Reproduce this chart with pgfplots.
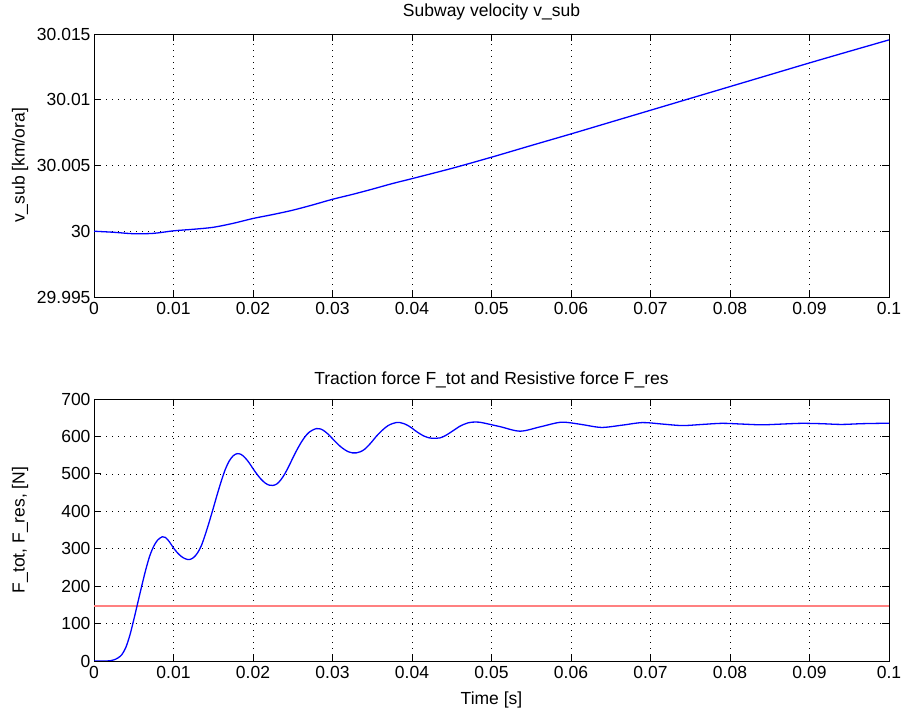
\documentclass[border=0pt]{standalone}
\usepackage{pgfplots}
\pgfplotsset{compat=1.18}
\usepackage{fontspec}
\setmainfont{Liberation Sans}
\definecolor{mblue}{rgb}{0,0,1}
\definecolor{mred}{RGB}{255,128,128}
\pgfplotsset{
  mstyle/.style={
    scale only axis,
    width=795bp,
    anchor=south west,
    xmin=0, xmax=0.1,
    xtick={0,0.01,0.02,0.03,0.04,0.05,0.06,0.07,0.08,0.09,0.1},
    xticklabels={0,0.01,0.02,0.03,0.04,0.05,0.06,0.07,0.08,0.09,0.1},
    scaled x ticks=false, scaled y ticks=false,
    grid=major,
    major grid style={black, line width=0.6bp, dash pattern=on 0.8bp off 5.2bp},
    tick align=inside,
    major tick length=7bp,
    tick style={black, line width=0.8bp},
    axis line style={black, line width=0.9bp},
    every axis/.append style={font=\fontsize{17.5bp}{20bp}\selectfont},
    tick label style={font=\fontsize{17.5bp}{20bp}\selectfont},
    /pgf/number format/assume math mode=true,
    xticklabel style={yshift=-2bp},
    title style={font=\fontsize{17.5bp}{20bp}\selectfont, at={(axis description cs:0.5,1)}, anchor=base},
    ylabel style={font=\fontsize{17.5bp}{20bp}\selectfont, at={(axis description cs:-0.093,0.5)}, anchor=center},
    xlabel style={font=\fontsize{17.5bp}{20bp}\selectfont, at={(axis description cs:0.5,0)}, anchor=base, yshift=-44bp},
  }
}
\begin{document}
\begin{tikzpicture}[x=1bp,y=1bp]
\useasboundingbox (0,0) rectangle (904,716);
\begin{axis}[mstyle, at={(94bp,419bp)}, height=263bp,
  ymin=29.995, ymax=30.015,
  ytick={29.995,30,30.005,30.01,30.015},
  yticklabels={29.995,30,30.005,30.01,30.015},
  title={Subway velocity v\_sub},
  title style={yshift=12bp},
  ylabel={v\_sub [km/ora]}]
\addplot[mblue, line width=1.3bp, smooth] coordinates {
(0,30.00000) (0.0025,29.99992) (0.005,29.99981) (0.0075,29.99984)
(0.01,30.00003) (0.0125,30.00015) (0.015,30.00030) (0.0175,30.00060)
(0.02,30.00097) (0.0225,30.00127) (0.025,30.00160) (0.0275,30.00200)
(0.03,30.00243) (0.0325,30.00280) (0.035,30.00320) (0.0375,30.00362)
(0.04,30.00400) (0.045,30.00478) (0.05,30.00563) (0.055,30.00652)
(0.06,30.00740) (0.065,30.00830) (0.07,30.00920) (0.075,30.01010)
(0.08,30.01100) (0.085,30.01190) (0.09,30.01280) (0.095,30.01368)
(0.1,30.01455)
};
\end{axis}
\begin{axis}[mstyle, at={(94bp,55bp)}, height=262bp,
  ymin=0, ymax=700,
  ytick={0,100,200,300,400,500,600,700},
  yticklabels={0,100,200,300,400,500,600,700},
  title={Traction force F\_tot and Resistive force F\_res},
  title style={yshift=9bp},
  ylabel={F\_tot, F\_res, [N]},
  xlabel={Time [s]}]
\addplot[mred, line width=1.8bp] coordinates {(0,147) (0.1,147)};
\addplot[mblue, line width=1.3bp, smooth] coordinates {
(0,0) (0.001,0) (0.0015,0) (0.002,0.5) (0.0025,3) (0.003,8) (0.0035,17)
(0.004,36) (0.0045,68) (0.005,110) (0.0055,155) (0.006,200) (0.0065,243)
(0.007,280) (0.0075,306) (0.008,323) (0.0086,332) (0.009,330) (0.0095,318)
(0.010,302) (0.0105,289) (0.011,279) (0.0115,273) (0.012,271) (0.0125,276)
(0.013,288) (0.0135,308) (0.014,338) (0.0145,372) (0.015,408) (0.0155,445)
(0.016,480) (0.0165,511) (0.017,534) (0.0175,548) (0.018,554) (0.0185,552)
(0.019,543) (0.0195,530) (0.020,514) (0.0205,499) (0.021,486) (0.0215,476)
(0.022,470) (0.0225,469) (0.023,473) (0.0235,484) (0.024,500) (0.0245,520)
(0.025,542) (0.0255,563) (0.026,582) (0.0265,598) (0.027,610) (0.0275,617)
(0.028,621) (0.0285,620) (0.029,614) (0.0295,605) (0.030,594) (0.0305,583)
(0.031,573) (0.0315,565) (0.032,559) (0.0325,556) (0.033,556) (0.0335,559)
(0.034,565) (0.0345,575) (0.035,587) (0.0355,600) (0.036,611) (0.0365,621)
(0.037,629) (0.0375,634) (0.038,637) (0.0385,637) (0.039,634) (0.0395,629)
(0.040,622) (0.0405,614) (0.041,607) (0.0415,601) (0.042,597) (0.0425,595)
(0.043,595) (0.0435,596) (0.044,600) (0.0445,606) (0.045,613) (0.0455,620)
(0.046,627) (0.0465,632) (0.047,636) (0.0475,638) (0.048,638.5) (0.0485,638)
(0.049,636) (0.0511,626) (0.0536,614) (0.0562,626) (0.0588,638) (0.0613,632)
(0.0638,624) (0.0664,630) (0.069,637) (0.0715,633) (0.074,629)
(0.0765,632) (0.079,635) (0.0815,633) (0.084,631) (0.0865,633)
(0.089,635) (0.0915,634) (0.094,632) (0.0965,634) (0.099,635) (0.1,635)
};
\end{axis}
\end{tikzpicture}
\end{document}
